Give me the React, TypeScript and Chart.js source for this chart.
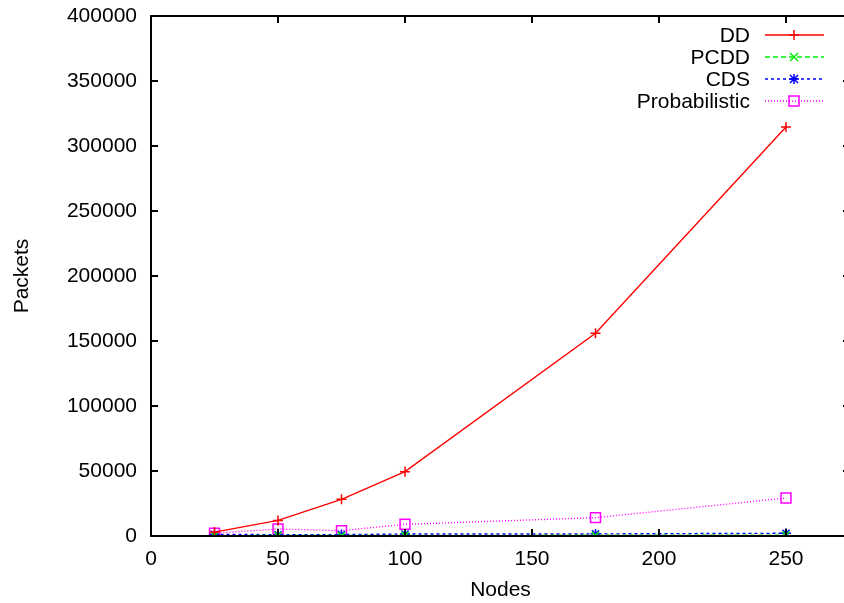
import React, { useEffect, useRef } from "react";
import { Chart, registerables } from "chart.js";

Chart.register(...registerables);

const nodes = [25, 50, 75, 100, 175, 250];
const ddValues = [3000, 12000, 28200, 49500, 156000, 314600];
const pcddValues = [300, 350, 400, 450, 550, 700];
const cdsValues = [1300, 1000, 1100, 1500, 1600, 2100];
const probValues = [2200, 5400, 4100, 9000, 14100, 29200];
const seriesNames = ["DD", "PCDD", "CDS", "Probabilistic"];
const xTicks = [0, 50, 100, 150, 200, 250];
const yTicks = [0, 50000, 100000, 150000, 200000, 250000, 300000, 350000, 400000];

const FONT = "'Liberation Sans', Arial, Helvetica, sans-serif";

function drawMarker(ctx: CanvasRenderingContext2D, style: string, x: number, y: number, color: string) {
  ctx.save();
  ctx.strokeStyle = color;
  ctx.lineWidth = 1.5;
  ctx.setLineDash([]);
  ctx.beginPath();
  const r = 5;
  if (style === "cross" || style === "star") {
    ctx.moveTo(x - r, y); ctx.lineTo(x + r, y);
    ctx.moveTo(x, y - r); ctx.lineTo(x, y + r);
  }
  if (style === "crossRot" || style === "star") {
    const d = r * 0.8;
    ctx.moveTo(x - d, y - d); ctx.lineTo(x + d, y + d);
    ctx.moveTo(x - d, y + d); ctx.lineTo(x + d, y - d);
  }
  if (style === "rect") {
    ctx.rect(x - 5, y - 5, 10, 10);
  }
  ctx.stroke();
  ctx.restore();
}

const PLOT_RIGHT = 850;

const fixArea = {
  id: "fixArea",
  afterLayout(chart: any) {
    const xs = chart.scales.x;
    xs.right = PLOT_RIGHT;
    xs.width = PLOT_RIGHT - xs.left;
    xs.configure();
    chart.chartArea.right = PLOT_RIGHT;
    chart.chartArea.width = PLOT_RIGHT - chart.chartArea.left;
  },
};

const frameAndLegend = {
  id: "frameAndLegend",
  afterDraw(chart: any) {
    const ctx = chart.ctx as CanvasRenderingContext2D;
    const { left, right, top, bottom } = chart.chartArea;
    const xs = chart.scales.x;
    const ys = chart.scales.y;
    ctx.save();
    ctx.strokeStyle = "#000";
    ctx.lineWidth = 2;
    ctx.setLineDash([]);
    ctx.strokeRect(left, top, right - left, bottom - top);
    ctx.beginPath();
    const tl = 7;
    for (const v of xTicks) {
      const px = xs.getPixelForValue(v);
      ctx.moveTo(px, bottom); ctx.lineTo(px, bottom - tl);
      ctx.moveTo(px, top); ctx.lineTo(px, top + tl);
    }
    for (const v of yTicks) {
      const py = ys.getPixelForValue(v);
      ctx.moveTo(left, py); ctx.lineTo(left + tl, py);
      ctx.moveTo(right, py); ctx.lineTo(right - tl, py);
    }
    ctx.stroke();

    // legend
    const ds = chart.data.datasets;
    const rowY = [35, 57, 79, 101];
    ctx.font = "21px " + FONT;
    ctx.textAlign = "right";
    ctx.textBaseline = "middle";
    ds.forEach((d: any, i: number) => {
      const y = rowY[i];
      ctx.fillStyle = "#000";
      ctx.fillText(d.label, 750, y + 1);
      ctx.save();
      ctx.strokeStyle = d.borderColor;
      ctx.lineWidth = 1.5;
      ctx.setLineDash(d.borderDash || []);
      ctx.beginPath();
      ctx.moveTo(765, y); ctx.lineTo(824, y);
      ctx.stroke();
      ctx.restore();
      drawMarker(ctx, d.pointStyle, 794, y, d.borderColor);
    });
    ctx.restore();
  },
};

export default function App() {
  const ref = useRef<HTMLCanvasElement | null>(null);
  useEffect(() => {
    document.body.style.margin = "0";
    const canvas = ref.current!;
    const mk = (label: string, data: number[], color: string, dash: number[], style: string, radius: number) => ({
      label,
      data: nodes.map((n, i) => ({ x: n, y: data[i] })),
      borderColor: color,
      backgroundColor: "rgba(0,0,0,0)",
      borderWidth: 1.4,
      borderDash: dash,
      pointStyle: style,
      pointRadius: radius,
      pointBorderWidth: 1.5,
      pointBorderColor: color,
      pointBackgroundColor: "rgba(0,0,0,0)",
      tension: 0,
    });
    const chart = new Chart(canvas, {
      type: "line",
      data: {
        datasets: [
          mk(seriesNames[0], ddValues, "#ff0000", [], "cross", 5),
          mk(seriesNames[1], pcddValues, "#00ee00", [5, 3], "crossRot", 5),
          mk(seriesNames[2], cdsValues, "#0000ff", [3, 3], "star", 5),
          mk(seriesNames[3], probValues, "#ff00ff", [1, 2], "rect", 7),
        ],
      },
      plugins: [fixArea, frameAndLegend],
      options: {
        animation: false,
        responsive: false,
        maintainAspectRatio: false,
        layout: { padding: { left: 0, top: 16, right: 1, bottom: 0 } },
        plugins: { legend: { display: false }, tooltip: { enabled: false } },
        scales: {
          x: {
            type: "linear",
            min: 0,
            max: 275.2,
            afterBuildTicks: (s: any) => { s.ticks = xTicks.map((v) => ({ value: v })); },
            afterFit: (s: any) => { s.height = 67; s.paddingLeft = 0; s.paddingRight = 0; },
            grid: { display: false, drawTicks: false },
            border: { display: false },
            ticks: { color: "#000", font: { family: FONT, size: 21 }, padding: 11, maxRotation: 0 },
            title: { display: true, text: "Nodes", color: "#000", font: { family: FONT, size: 21 }, padding: { top: 0, bottom: 0 } },
          },
          y: {
            type: "linear",
            min: 0,
            max: 400000,
            afterBuildTicks: (s: any) => { s.ticks = yTicks.map((v) => ({ value: v })); },
            afterFit: (s: any) => { s.width = 151; s.paddingTop = 0; s.paddingBottom = 0; },
            grid: { display: false, drawTicks: false },
            border: { display: false },
            ticks: { color: "#000", font: { family: FONT, size: 21 }, padding: 14, callback: (v: any) => String(v) },
            title: { display: true, text: "Packets", color: "#000", font: { family: FONT, size: 21 }, padding: { top: 10, bottom: 0 } },
          },
        },
      },
    } as any);
    return () => chart.destroy();
  }, []);
  return <canvas ref={ref} width={844} height={603} style={{ display: "block" }} />;
}
